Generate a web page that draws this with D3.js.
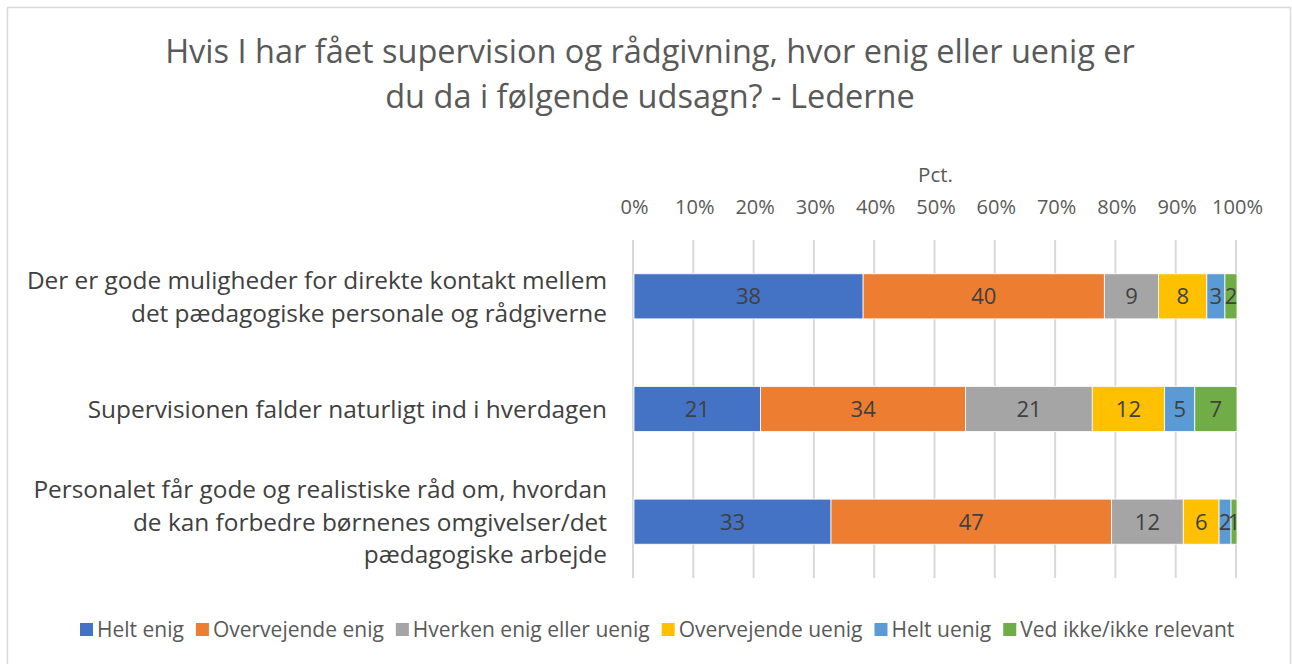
<!DOCTYPE html>
<html>
<head>
<meta charset="utf-8">
<script src="https://cdn.jsdelivr.net/npm/d3@7"></script>
<style>
  body { margin: 0; background: #fff; }
  svg text { font-family: "Open Sans", "Noto Sans", sans-serif; }
</style>
</head>
<body>
<div class="chart"></div>
<script>
// data
var categories = [
  "Der er gode muligheder for direkte kontakt mellem|det pædagogiske personale og rådgiverne",
  "Supervisionen falder naturligt ind i hverdagen",
  "Personalet får gode og realistiske råd om, hvordan|de kan forbedre børnenes omgivelser/det|pædagogiske arbejde"
];
var seriesNames = ["Helt enig", "Overvejende enig", "Hverken enig eller uenig", "Overvejende uenig", "Helt uenig", "Ved ikke/ikke relevant"];
var seriesColors = ["#4472c4", "#ed7d31", "#a5a5a5", "#ffc000", "#5b9bd5", "#70ad47"];
var helt_enig = [38, 21, 33];
var overvejende_enig = [40, 34, 47];
var hverken = [9, 21, 12];
var overvejende_uenig = [8, 12, 6];
var helt_uenig = [3, 5, 2];
var ved_ikke = [2, 7, 1];
var tickValues = [0, 0.1, 0.2, 0.3, 0.4, 0.5, 0.6, 0.7, 0.8, 0.9, 1];

var allSeries = [helt_enig, overvejende_enig, hverken, overvejende_uenig, helt_uenig, ved_ikke];
var rows = categories.map(function(c, i) {
  var r = { cat: c };
  seriesNames.forEach(function(s, j) { r[s] = allSeries[j][i]; });
  return r;
});

var svgWidth = 1292, svgHeight = 664;
var margin = { top: 240, left: 634, right: 55, bottom: 86 };
var width = svgWidth - margin.left - margin.right;
var height = svgHeight - margin.top - margin.bottom;

var svg = d3.select(".chart").append("svg")
  .attr("width", svgWidth)
  .attr("height", svgHeight);

// frame
svg.append("rect")
  .attr("x", 7.5).attr("y", 7.5)
  .attr("width", 1283).attr("height", 670)
  .attr("fill", "#fff").attr("stroke", "#d9d9d9").attr("stroke-width", 1.5);

// title
svg.append("text").attr("x", 650).attr("y", 63)
  .attr("text-anchor", "middle").attr("font-size", 32.5).attr("fill", "#595959")
  .text("Hvis I har fået supervision og rådgivning, hvor enig eller uenig er");
svg.append("text").attr("x", 650).attr("y", 108)
  .attr("text-anchor", "middle").attr("font-size", 32.5).attr("fill", "#595959")
  .text("du da i følgende udsagn? - Lederne");

var chartGroup = svg.append("g")
  .attr("transform", `translate(${margin.left}, ${margin.top})`);

var x = d3.scaleLinear().domain([0, 1]).range([0, 603]);
var y = d3.scaleBand().domain(categories).range([0, height]).paddingInner(0.6).paddingOuter(0.3);

// gridlines
chartGroup.selectAll(".grid")
  .data(tickValues)
  .enter().append("line")
  .attr("x1", d => x(d) - 1).attr("x2", d => x(d) - 1)
  .attr("y1", 0).attr("y2", height)
  .attr("stroke", "#d9d9d9").attr("stroke-width", 2);

// top axis labels
var topAxis = d3.axisTop(x).tickValues(tickValues).tickFormat(d3.format(".0%")).tickSize(0);
var ax = chartGroup.append("g")
  .attr("transform", "translate(0, -23)")
  .call(topAxis);
ax.select(".domain").remove();
ax.selectAll("text").attr("font-size", 20).attr("fill", "#595959").attr("font-family", "'Open Sans', 'Noto Sans', sans-serif");

chartGroup.append("text")
  .attr("x", x(0.5)).attr("y", -58)
  .attr("text-anchor", "middle").attr("font-size", 20.5).attr("fill", "#595959")
  .text("Pct.");

// stacks
var stack = d3.stack().keys(seriesNames).offset(d3.stackOffsetExpand);
var stacked = stack(rows);

var layers = chartGroup.selectAll(".layer")
  .data(stacked)
  .enter().append("g")
  .attr("fill", (d, i) => seriesColors[i]);

layers.selectAll("rect")
  .data(d => d)
  .enter().append("rect")
  .attr("x", d => x(d[0]))
  .attr("y", d => y(d.data.cat))
  .attr("width", d => x(d[1]) - x(d[0]))
  .attr("height", y.bandwidth())
  .attr("stroke", "#fff").attr("stroke-width", 0.8);

layers.selectAll("text")
  .data(d => d.map(v => ({ v: v, key: d.key })))
  .enter().append("text")
  .attr("x", d => (x(d.v[0]) + x(d.v[1])) / 2)
  .attr("y", d => y(d.v.data.cat) + y.bandwidth() / 2 + 8)
  .attr("text-anchor", "middle")
  .attr("font-size", 22).attr("fill", "#404040")
  .text(d => d.v.data[d.key]);

// category labels
categories.forEach(function(c) {
  var lines = c.split("|");
  var cy = y(c) + y.bandwidth() / 2;
  var lh = 32.5;
  var t = chartGroup.append("text")
    .attr("text-anchor", "end").attr("font-size", 24.4).attr("fill", "#404040");
  lines.forEach(function(l, k) {
    t.append("tspan")
      .attr("x", -27)
      .attr("y", cy + 9 + (k - (lines.length - 1) / 2) * lh)
      .text(l);
  });
});

// legend
var legend = svg.append("g").attr("transform", "translate(80, 623)");
var lx = 0;
seriesNames.forEach(function(s, i) {
  var g = legend.append("g").attr("transform", `translate(${lx}, 0)`);
  g.append("rect").attr("width", 13).attr("height", 13).attr("fill", seriesColors[i]);
  var t = g.append("text").attr("x", 17).attr("y", 14)
    .attr("font-size", 21).attr("fill", "#595959").text(s);
  lx += 17 + t.node().getComputedTextLength() + 12;
});
</script>
</body>
</html>
